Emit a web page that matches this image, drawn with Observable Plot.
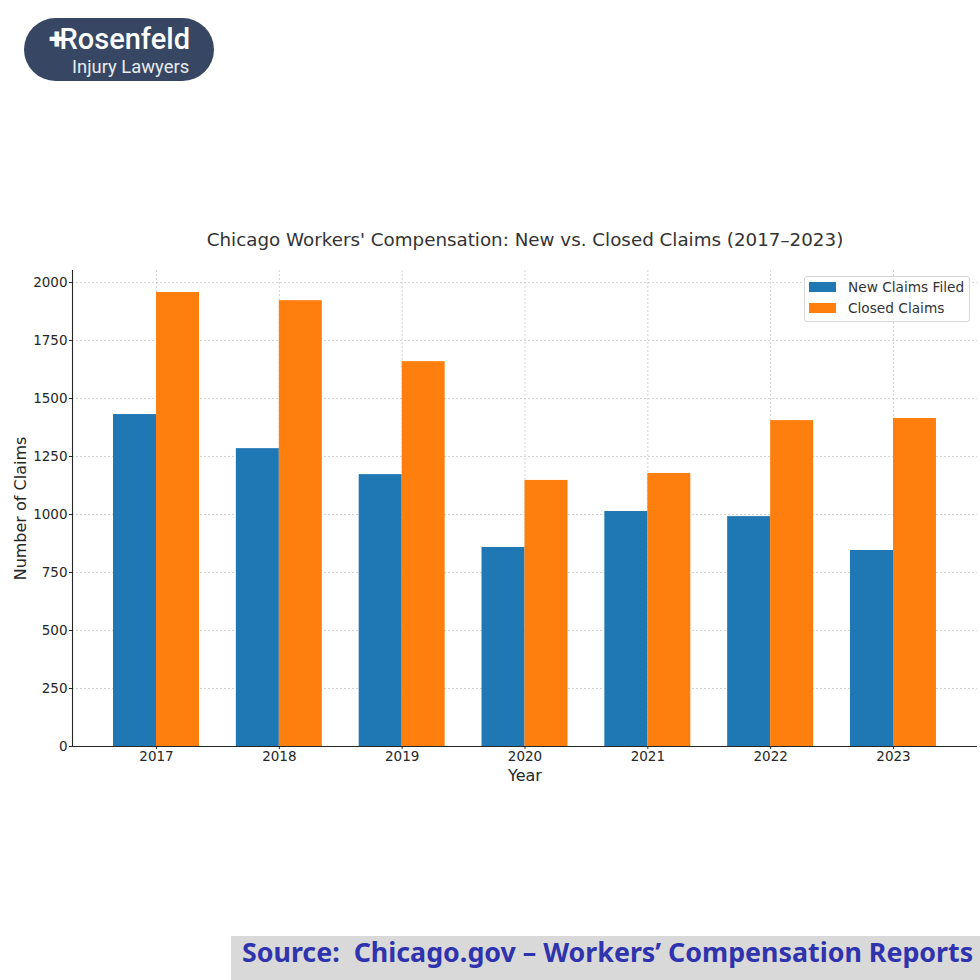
<!DOCTYPE html>
<html>
<head>
<meta charset="utf-8">
<script src="https://cdn.jsdelivr.net/npm/d3@7"></script>
<script src="https://cdn.jsdelivr.net/npm/@observablehq/plot@0.6"></script>
<style>
html,body{margin:0;padding:0;background:#fff;}
#wrap{position:relative;width:980px;height:980px;overflow:hidden;font-family:"DejaVu Sans",sans-serif;}
#logo{position:absolute;left:24px;top:18px;width:190px;height:63px;border-radius:32px;background:#374763;color:#fff;font-family:Roboto,sans-serif;}
#logo .a{position:absolute;left:25px;top:4px;font-size:29px;font-weight:500;line-height:34px;white-space:nowrap;}
#logo .a i{font-style:normal;font-weight:900;letter-spacing:-5px;}
#logo .b{position:absolute;left:48px;top:39px;font-size:18.4px;line-height:20px;white-space:nowrap;color:#e8ebf0;}
#legend{position:absolute;left:804px;top:276px;width:164px;height:44px;border:1px solid #d6d6d6;border-radius:3px;background:rgba(255,255,255,.85);font-size:13.7px;color:#333;}
#legend .row{position:absolute;left:4px;display:flex;align-items:center;white-space:nowrap;}
#legend .sw{width:27px;height:10px;margin-right:12px;}
#source{position:absolute;left:231px;top:936px;width:749px;height:44px;background:#d9d9d9;color:#2f33ad;font-family:"Noto Sans",sans-serif;font-weight:700;font-size:26.8px;line-height:32px;white-space:pre;}
#source span{position:absolute;left:11px;top:0;}
</style>
</head>
<body>
<div id="wrap">
  <div id="chart"></div>
  <div id="logo"><div class="a"><i>+</i>Rosenfeld</div><div class="b">Injury Lawyers</div></div>
  <div id="legend"></div>
  <div id="source"><span>Source:  Chicago.gov – Workers’ Compensation Reports</span></div>
</div>
<script>
const years = [2017, 2018, 2019, 2020, 2021, 2022, 2023];
const newClaims = [1431, 1284, 1172, 858, 1013, 991, 845];
const closedClaims = [1957, 1922, 1659, 1147, 1177, 1405, 1414];
const yTicks = [0, 250, 500, 750, 1000, 1250, 1500, 1750, 2000];
const seriesNames = ["New Claims Filed", "Closed Claims"];
const seriesColors = ["#1f77b4", "#ff7f0e"];
const barWidth = 0.35;
const titleText = "Chicago Workers' Compensation: New vs. Closed Claims (2017–2023)";

const rows = years.flatMap((year, i) => [
  {year, x1: year - barWidth, x2: year, value: newClaims[i], series: seriesNames[0]},
  {year, x1: year, x2: year + barWidth, value: closedClaims[i], series: seriesNames[1]}
]);

const ink = "#262626";
const plot = Plot.plot({
  width: 980, height: 980,
  marginLeft: 72, marginRight: 3, marginTop: 270, marginBottom: 234,
  style: {fontFamily: '"DejaVu Sans", sans-serif', fontSize: "13.5px", color: ink, background: "transparent"},
  x: {domain: [2017 - 0.684, 2023 + 0.684], label: null},
  y: {domain: [0, 2052], label: null},
  color: {domain: seriesNames, range: seriesColors},
  marks: [
    Plot.gridX(years, {stroke: "#b0b0b0", strokeOpacity: 0.7, strokeWidth: 0.8, strokeDasharray: "2 2"}),
    Plot.gridY(yTicks, {stroke: "#b0b0b0", strokeOpacity: 0.7, strokeWidth: 0.8, strokeDasharray: "2 2"}),
    Plot.rectY(rows, {x1: "x1", x2: "x2", y1: 0, y2: "value", fill: "series", inset: 0}),
    Plot.axisX(years, {tickFormat: d => String(d), tickSize: 3, tickPadding: 2, fontSize: 13.5, stroke: ink, label: null}),
    Plot.axisY(yTicks, {tickFormat: d => String(d), tickSize: 3, tickPadding: 2, fontSize: 13.5, stroke: ink, label: null}),
    Plot.ruleY([0], {stroke: ink, strokeWidth: 1.1}),
    Plot.ruleX([2017 - 0.684], {stroke: ink, strokeWidth: 1.1}),
    Plot.text([titleText], {frameAnchor: "top", dy: -30, fontSize: 18.3, fill: "#333", lineAnchor: "middle"}),
    Plot.text(["Year"], {frameAnchor: "bottom", dy: 29, fontSize: 16, fill: ink, lineAnchor: "middle"}),
    Plot.text(["Number of Claims"], {frameAnchor: "left", dx: -52, rotate: -90, fontSize: 16, fill: ink, textAnchor: "middle", lineAnchor: "middle"})
  ]
});
document.getElementById("chart").appendChild(plot);

const legend = document.getElementById("legend");
seriesNames.forEach((name, i) => {
  const row = document.createElement("div");
  row.className = "row";
  row.style.top = (i === 0 ? 2 : 23) + "px";
  row.innerHTML = `<div class="sw" style="background:${seriesColors[i]}"></div><div>${name}</div>`;
  legend.appendChild(row);
});
</script>
</body>
</html>
